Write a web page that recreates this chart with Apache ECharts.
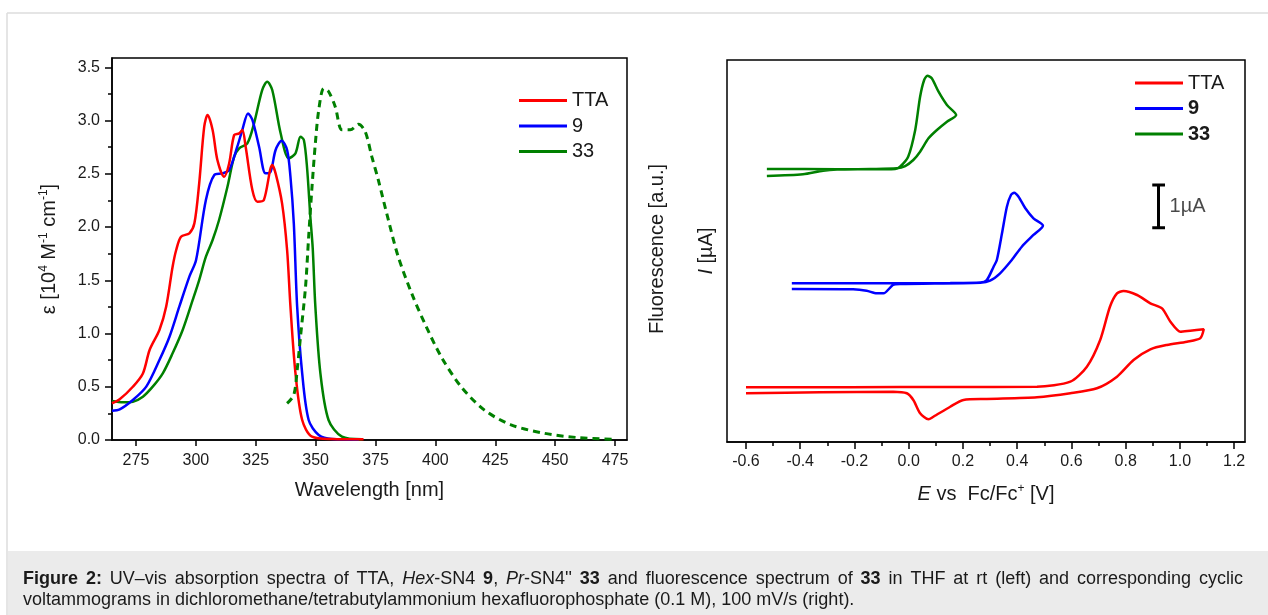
<!DOCTYPE html>
<html><head><meta charset="utf-8">
<script src="https://cdn.jsdelivr.net/npm/echarts@6.0.0/dist/echarts.min.js"></script>
<style>html,body{margin:0;padding:0;background:#fff}#c{width:1268px;height:615px}</style>
</head><body><div id="c"></div>
<script>
// ---------- Left panel: UV-vis absorption (epsilon, 10^4 M^-1 cm^-1) ----------
const ttaWl  = [265.0,268.2,273.7,277.9,280.7,284.8,287.6,290.3,291.8,293.8,297.3,299.4,301.4,303.5,304.9,307.0,309.0,311.8,313.9,316.0,318.1,319.4,320.8,323.6,325.7,328.4,331.9,333.3,336.0,338.1,339.5,341.6,344.4,348.5,356.8,370.0];
const ttaEps = [0.345,0.382,0.500,0.625,0.845,1.033,1.251,1.627,1.784,1.909,1.941,2.035,2.410,2.942,3.052,2.911,2.629,2.472,2.597,2.864,2.879,2.911,2.754,2.347,2.238,2.254,2.582,2.504,2.222,1.784,1.252,0.626,0.188,0.031,0.009,0.006];
const c9Wl   = [265.0,268.2,273.7,279.3,284.8,289.0,293.1,297.3,300.1,304.2,307.7,311.1,313.9,317.3,319.4,321.8,323.6,326.4,329.1,331.2,333.3,335.8,338.1,339.5,340.9,342.3,344.4,347.1,351.3,356.8,368.0];
const c9Eps  = [0.275,0.288,0.376,0.501,0.751,0.970,1.252,1.534,1.690,2.254,2.488,2.504,2.535,2.754,2.911,3.067,3.005,2.754,2.504,2.519,2.723,2.810,2.723,2.472,2.034,1.252,0.626,0.188,0.047,0.009,0.005];
const c33Wl  = [265.0,269.6,273.7,277.9,282.0,286.2,290.3,294.5,298.7,301.4,304.2,307.0,309.7,313.2,316.0,318.1,321.5,324.3,327.7,329.8,331.9,335.4,338.8,341.6,343.7,345.1,346.4,347.8,348.8,349.9,352.0,355.4,361.0,369.3];
const c33Eps = [0.366,0.354,0.360,0.407,0.501,0.626,0.814,1.033,1.315,1.502,1.721,1.878,2.066,2.378,2.660,2.739,2.786,2.973,3.286,3.364,3.286,2.880,2.645,2.692,2.848,2.817,2.566,2.097,1.800,1.252,0.626,0.188,0.031,0.006];
// fluorescence of 33 (a.u., normalised)
const flWl   = [338.1,340.9,342.3,343.7,345.8,347.1,348.5,349.9,351.3,353.4,355.4,358.2,361.0,364.5,367.9,370.7,373.5,376.2,380.4,384.5,390.1,395.6,402.5,410.8,420.5,431.6,445.5,459.3,474.6];
const flInt  = [0.104,0.128,0.199,0.294,0.436,0.578,0.720,0.844,0.938,1.000,0.991,0.948,0.882,0.882,0.898,0.877,0.805,0.739,0.625,0.521,0.417,0.331,0.236,0.151,0.085,0.043,0.019,0.007,0.002];
const wlTicks  = [275,300,325,350,375,400,425,450,475];
const epsTicks = [0.0,0.5,1.0,1.5,2.0,2.5,3.0,3.5];
const epsMinor = [0.25,0.75,1.25,1.75,2.25,2.75,3.25];

// ---------- Right panel: cyclic voltammograms (E vs Fc/Fc+ in V, I in µA with offsets) ----------
const ttaE = [-0.600,-0.216,0.153,0.473,0.596,0.657,0.706,0.742,0.768,0.792,0.842,0.891,0.934,0.965,1.002,1.038,1.088,1.075,1.026,0.952,0.891,0.829,0.768,0.694,0.596,0.473,0.288,0.202,0.153,0.091,0.073,0.042,0.017,-0.007,-0.057,-0.327,-0.600];
const ttaI = [1.302,1.305,1.310,1.317,1.436,1.793,2.429,3.221,3.540,3.595,3.500,3.302,3.183,2.864,2.626,2.650,2.683,2.469,2.388,2.310,2.207,1.952,1.555,1.279,1.160,1.064,1.024,1.000,0.840,0.602,0.540,0.683,1.000,1.160,1.198,1.183,1.160];
const c9E  = [-0.431,-0.216,0.153,0.264,0.288,0.313,0.325,0.344,0.362,0.377,0.389,0.405,0.430,0.460,0.495,0.460,0.417,0.380,0.337,0.300,0.264,-0.032,-0.058,-0.093,-0.118,-0.155,-0.205,-0.431];
const c9I  = [3.779,3.779,3.786,3.798,3.857,4.174,4.333,4.969,5.602,5.881,5.936,5.840,5.564,5.326,5.150,4.929,4.650,4.333,4.017,3.840,3.793,3.762,3.738,3.540,3.540,3.602,3.636,3.643];
const c33E = [-0.523,-0.264,-0.142,-0.050,-0.032,-0.002,0.024,0.042,0.057,0.069,0.085,0.110,0.141,0.175,0.141,0.104,0.073,0.042,0.017,-0.013,-0.044,-0.142,-0.264,-0.316,-0.390,-0.523];
const c33I = [6.500,6.495,6.493,6.500,6.555,6.793,7.429,8.221,8.619,8.721,8.660,8.340,8.024,7.786,7.626,7.429,7.231,6.912,6.714,6.571,6.517,6.500,6.488,6.460,6.374,6.333];
const eTicks = [-0.6,-0.4,-0.2,0.0,0.2,0.4,0.6,0.8,1.0,1.2];
const eMinor = [-0.5,-0.3,-0.1,0.1,0.3,0.5,0.7,0.9,1.1];
// 1 µA scale bar
const barE = [0.898,0.945,0.921,0.921,0.898,0.945];
const barI = [6.12,6.12,6.12,5.10,5.10,5.10];
const barLabelPos = [0.947,5.60];

// caption (line 1 is justified, line 2 left-aligned); segments: [text, style]
const captionLine1 = [
  ['Figure 2:', 'b'], [' UV–vis absorption spectra of TTA, ', 'n'], ['Hex', 'i'], ['-SN4 ', 'n'], ['9', 'b'],
  [', ', 'n'], ['Pr', 'i'], ['-SN4\'\' ', 'n'], ['33', 'b'], [' and fluorescence spectrum of ', 'n'], ['33', 'b'],
  [' in THF at rt (left) and corresponding cyclic', 'n']
];
const captionLine2 = 'voltammograms in dichloromethane/tetrabutylammonium hexafluorophosphate (0.1 M), 100 mV/s (right).';

const FONT = "'Liberation Sans', Arial, Helvetica, sans-serif";
const TXT = '#1a1a1a';
const RED = '#ff0000', BLUE = '#0000ff', GREEN = '#008000';
const zip = (a, b) => a.map((v, i) => [v, b[i]]);

// ---- caption justification (layout only) ----
const CAP_SIZE = 18, CAP_X = 23, CAP_RIGHT = 1243, CAP_LH = 21;
const mctx = document.createElement('canvas').getContext('2d');
const fontFor = s => (s === 'b' ? 'bold ' : s === 'i' ? 'italic ' : '') + CAP_SIZE + 'px ' + FONT;
let natural = 0, nSpaces = 0;
captionLine1.forEach(([t, s]) => {
  const words = t.split(' ');
  mctx.font = fontFor(s);
  words.forEach(w => { natural += mctx.measureText(w).width; });
  nSpaces += words.length - 1;
});
const spaceW = (CAP_RIGHT - CAP_X - natural) / nSpaces;
let line1Rich = '';
captionLine1.forEach(([t, s]) => {
  const words = t.split(' ');
  words.forEach((w, k) => {
    if (k > 0) line1Rich += '{s| }';
    if (w.length) line1Rich += '{' + s + '|' + w + '}';
  });
});
const capBase = {fontFamily: FONT, fontSize: CAP_SIZE, fill: TXT, lineHeight: CAP_LH, verticalAlign: 'bottom'};
const capRich = {
  n: Object.assign({}, capBase),
  b: Object.assign({fontWeight: 'bold'}, capBase),
  i: Object.assign({fontStyle: 'italic'}, capBase),
  s: Object.assign({width: spaceW}, capBase)
};

const axLine = {show: true, lineStyle: {color: '#000', width: 1.5}};
const chart = echarts.init(document.getElementById('c'), null, {renderer: 'canvas'});

function absSeries(name, xs, ys, color) {
  return {name, type: 'line', xAxisIndex: 0, yAxisIndex: 0, data: zip(xs, ys), smooth: 0.3,
    showSymbol: false, symbol: 'none', lineStyle: {color, width: 2.5}, itemStyle: {color}, z: 3};
}
function cvSeries(name, xs, ys, color) {
  return {name, type: 'line', xAxisIndex: 1, yAxisIndex: 3, data: zip(xs, ys), smooth: 0.25,
    showSymbol: false, symbol: 'none', lineStyle: {color, width: 2.5}, itemStyle: {color}, z: 3};
}

const option = {
  animation: false,
  backgroundColor: '#fff',
  textStyle: {fontFamily: FONT},
  graphic: [
    {type: 'line', shape: {x1: 7, y1: 13, x2: 1268, y2: 13}, style: {stroke: '#dcdcdc', lineWidth: 1.5}, silent: true},
    {type: 'line', shape: {x1: 7, y1: 13, x2: 7, y2: 615}, style: {stroke: '#dcdcdc', lineWidth: 1.5}, silent: true},
    {type: 'rect', shape: {x: 8, y: 551, width: 1260, height: 64}, style: {fill: '#ebebeb'}, silent: true},
    {type: 'text', x: CAP_X, y: 567, silent: true,
      style: {text: line1Rich + '\n{n|' + captionLine2 + '}', fontFamily: FONT, fontSize: CAP_SIZE, lineHeight: CAP_LH, fill: TXT, rich: capRich}}
  ],
  grid: [
    {left: 112, top: 58, width: 515, height: 382, show: true, borderColor: '#000', borderWidth: 1.5, backgroundColor: 'transparent'},
    {left: 727, top: 60, width: 518, height: 382, show: true, borderColor: '#000', borderWidth: 1.5, backgroundColor: 'transparent'}
  ],
  legend: [
    {left: 519, top: 90.5, padding: 0, orient: 'vertical', itemWidth: 48, itemHeight: 3, itemGap: 5.5,
      data: [{name: 'TTA', icon: 'rect'}, {name: '9', icon: 'rect'}, {name: '33', icon: 'rect'}],
      textStyle: {fontFamily: FONT, fontSize: 20, color: TXT, lineHeight: 19}, selectedMode: false},
    {left: 1135, top: 73, padding: 0, orient: 'vertical', itemWidth: 48, itemHeight: 3, itemGap: 5.5,
      data: [{name: 'TTA', icon: 'rect'}, {name: '9', icon: 'rect'}, {name: '33', icon: 'rect'}],
      formatter: n => n === 'TTA' ? n : '{b|' + n + '}',
      textStyle: {fontFamily: FONT, fontSize: 20, color: TXT, lineHeight: 19,
        rich: {b: {fontFamily: FONT, fontSize: 20, fontWeight: 'bold', color: TXT, lineHeight: 19}}}, selectedMode: false}
  ],
  xAxis: [
    {gridIndex: 0, type: 'value', position: 'bottom', min: 265, max: 480, axisLine: axLine, splitLine: {show: false},
      axisTick: {show: true, length: 6, lineStyle: {color: '#000', width: 1.5}, customValues: wlTicks},
      axisLabel: {customValues: wlTicks, fontSize: 16, color: TXT, margin: 13, fontFamily: FONT},
      name: 'Wavelength [nm]', nameLocation: 'middle', nameGap: 40,
      nameTextStyle: {fontSize: 20, color: TXT, fontFamily: FONT}},
    {gridIndex: 1, type: 'value', position: 'bottom', min: -0.67, max: 1.24, axisLine: axLine, splitLine: {show: false},
      axisTick: {show: true, length: 7, lineStyle: {color: '#000', width: 1.5}, customValues: eTicks},
      axisLabel: {customValues: eTicks, fontSize: 16, color: TXT, margin: 12, fontFamily: FONT,
        formatter: v => v.toFixed(1)},
      name: '{i|E} vs  Fc/Fc{sup|+} [V]', nameLocation: 'middle', nameGap: 41,
      nameTextStyle: {fontSize: 20, color: TXT, fontFamily: FONT,
        rich: {i: {fontSize: 20, fontStyle: 'italic', color: TXT, fontFamily: FONT},
               sup: {fontSize: 12, color: TXT, fontFamily: FONT, verticalAlign: 'top', padding: [0, 0, 10, 0]}}}},
    {gridIndex: 1, type: 'value', position: 'bottom', offset: 0, min: -0.67, max: 1.24, axisLine: {show: false}, splitLine: {show: false},
      axisTick: {show: true, length: 4, lineStyle: {color: '#000', width: 1.5}, customValues: eMinor},
      axisLabel: {show: false}}
  ],
  yAxis: [
    {gridIndex: 0, type: 'value', position: 'left', min: 0, max: 3.587, axisLine: axLine, splitLine: {show: false},
      axisTick: {show: true, length: 7, lineStyle: {color: '#000', width: 1.5}, customValues: epsTicks},
      axisLabel: {customValues: epsTicks, fontSize: 16, color: TXT, margin: 12, fontFamily: FONT,
        formatter: v => v.toFixed(1)},
      name: 'ε [10{sup|4} M{sup|-1} cm{sup|-1}]', nameLocation: 'middle', nameGap: 52, nameRotate: 90,
      nameTextStyle: {fontSize: 20, color: TXT, fontFamily: FONT,
        rich: {sup: {fontSize: 12, color: TXT, fontFamily: FONT, verticalAlign: 'top', padding: [0, 0, 10, 0]}}}},
    {gridIndex: 0, type: 'value', position: 'right', min: 0, max: 1.0863, axisLine: {show: false},
      splitLine: {show: false}, axisTick: {show: false}, axisLabel: {show: false},
      name: 'Fluorescence [a.u.]', nameLocation: 'middle', nameGap: 20, nameRotate: 90,
      nameTextStyle: {fontSize: 20, color: TXT, fontFamily: FONT}},
    {gridIndex: 0, type: 'value', position: 'left', offset: 0, min: 0, max: 3.587, axisLine: {show: false}, splitLine: {show: false},
      axisTick: {show: true, length: 4, lineStyle: {color: '#000', width: 1.5}, customValues: epsMinor},
      axisLabel: {show: false}},
    {gridIndex: 1, type: 'value', position: 'left', min: 0, max: 9.095, axisLine: {show: false}, splitLine: {show: false},
      axisTick: {show: false}, axisLabel: {show: false},
      name: '{i|I} [µA]', nameLocation: 'middle', nameGap: 11, nameRotate: 90,
      nameTextStyle: {fontSize: 20, color: TXT, fontFamily: FONT,
        rich: {i: {fontSize: 20, fontStyle: 'italic', color: TXT, fontFamily: FONT}}}}
  ],
  series: [
    absSeries('33', c33Wl, c33Eps, GREEN),
    absSeries('9', c9Wl, c9Eps, BLUE),
    absSeries('TTA', ttaWl, ttaEps, RED),
    {name: '33 fluorescence', type: 'line', xAxisIndex: 0, yAxisIndex: 1, data: zip(flWl, flInt), smooth: 0.3,
      showSymbol: false, symbol: 'none', lineStyle: {color: GREEN, width: 3, type: [7, 5]}, itemStyle: {color: GREEN}, z: 4},
    cvSeries('TTA', ttaE, ttaI, RED),
    cvSeries('9', c9E, c9I, BLUE),
    cvSeries('33', c33E, c33I, GREEN),
    {name: 'scale', type: 'line', xAxisIndex: 1, yAxisIndex: 3, data: zip(barE, barI), showSymbol: false,
      symbol: 'none', lineStyle: {color: '#000', width: 3}, silent: true},
    {name: 'scale label', type: 'scatter', xAxisIndex: 1, yAxisIndex: 3, data: [barLabelPos], symbolSize: 0,
      silent: true, label: {show: true, position: 'right', distance: 4, formatter: '1µA', fontSize: 20,
        color: TXT, fontFamily: FONT}}
  ]
};
chart.setOption(option);
</script>
</body></html>
